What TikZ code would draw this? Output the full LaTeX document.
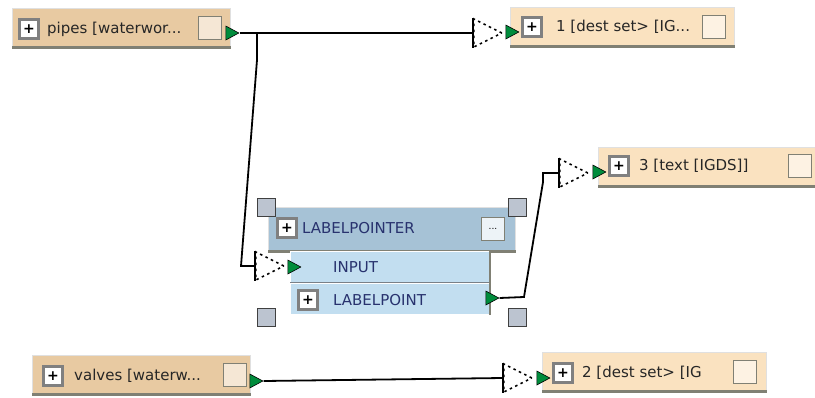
\documentclass[tikz,border=0pt]{standalone}
\usepackage{fontspec}
\setmainfont{DejaVu Sans}
\usetikzlibrary{shapes.geometric,positioning}
\definecolor{srcfill}{RGB}{232,202,162}
\definecolor{dstfill}{RGB}{250,226,192}
\definecolor{hdrfill}{RGB}{166,194,214}
\definecolor{rowfill}{RGB}{194,222,240}
\definecolor{hdlfill}{RGB}{188,196,208}
\definecolor{portgreen}{RGB}{0,140,60}
\definecolor{edgegray}{RGB}{128,128,116}
\definecolor{txtblue}{RGB}{40,50,110}
\tikzstyle{srcbox}=[rectangle,draw=black!12,line width=1pt,fill=srcfill,anchor=north west,minimum width=218pt,minimum height=38pt,inner sep=0pt]
\tikzstyle{dstbox}=[srcbox,fill=dstfill,minimum width=224pt]
\tikzstyle{hdr}=[srcbox,fill=hdrfill,minimum width=247pt,minimum height=43pt]
\tikzstyle{row}=[srcbox,fill=rowfill,draw=white,minimum width=199pt,minimum height=31pt]
\tikzstyle{pm}=[rectangle,draw=gray,line width=2.2pt,fill=white,minimum size=19pt,inner sep=0pt,font=\bfseries\fontsize{14}{14}\selectfont]
\tikzstyle{btn}=[rectangle,draw=edgegray,line width=1.5pt,fill=white!55!srcfill,minimum size=23pt,inner sep=0pt]
\tikzstyle{lbl}=[anchor=west,inner sep=0pt,font=\fontsize{15}{17}\selectfont,text=black!85]
\tikzstyle{outp}=[isosceles triangle,isosceles triangle stretches,fill=portgreen,draw=black,line width=0.6pt,minimum width=14pt,minimum height=13pt,inner sep=0pt]
\tikzstyle{inp}=[isosceles triangle,isosceles triangle stretches,draw,dash pattern=on 2.5pt off 3.5pt,line width=1.6pt,minimum width=28pt,minimum height=28pt,inner sep=0pt,anchor=lower side]
\tikzstyle{hdl}=[rectangle,fill=hdlfill,draw=black!75,line width=1pt,minimum size=18pt,inner sep=0pt]
\tikzstyle{wire}=[line width=1.8pt]
\tikzstyle{shd}=[line width=3pt,edgegray]

\begin{document}
\begin{tikzpicture}[x=1pt,y=-1pt]
\useasboundingbox (0,0) rectangle (815,397);
% source feature types
\node[srcbox] (pipes) at (12,8) {};
\draw[shd] (pipes.south west) -- (pipes.south east);
\node[pm] (pipesPM) at (29,29) {+};
\node[lbl] (pipesT) at (47,29) {pipes [waterwor...};
\node[btn] (pipesB) at (210,28) {};
\node[srcbox] (valves) at (32,355) {};
\draw[shd] (valves.south west) -- (valves.south east);
\node[pm] (valvesPM) at (53,376) {+};
\node[lbl] (valvesT) at (74,376) {valves [waterw...};
\node[btn] (valvesB) at (235,375) {};
% destination feature types
\node[dstbox] (dest1) at (510,7) {};
\draw[shd] (dest1.south west) -- (dest1.south east);
\node[pm] (dest1PM) at (532,27) {+};
\node[lbl] (dest1T) at (556,27) {1 [dest set> [IG...};
\node[btn,fill=white!55!dstfill] (dest1B) at (714,27) {};
\node[dstbox] (dest3) at (598,147) {};
\draw[shd] (dest3.south west) -- (dest3.south east);
\node[pm] (dest3PM) at (619,166) {+};
\node[lbl] (dest3T) at (639,166) {3 [text [IGDS]]};
\node[btn,fill=white!55!dstfill] (dest3B) at (800,166) {};
\node[dstbox] (dest2) at (542,352) {};
\draw[shd] (dest2.south west) -- (dest2.south east);
\node[pm] (dest2PM) at (563,373) {+};
\node[lbl] (dest2T) at (582,373) {2 [dest set> [IG};
\node[btn,fill=white!55!dstfill] (dest2B) at (745,372) {};
% transformer
\node[hdr] (lp) at (268,207) {};
\draw[shd] (lp.south west) -- (lp.south east);
\node[pm] (lpPM) at (287,228) {+};
\node[lbl,text=txtblue] (lpT) at (302,228) {LABELPOINTER};
\node[btn,fill=white!80!hdrfill,font=\small] (lpB) at (493,229) {...};
\node[row] (inRow) at (290,251) {};
\draw[line width=2pt,black!35!hdlfill] (inRow.south west) -- (inRow.south east);
\node[lbl,text=txtblue] (inT) at (333,267) {INPUT};
\node[row] (outRow) at (290,283) {};
\draw[line width=2pt,edgegray] (inRow.north east) -- (outRow.south east);
\node[pm] (outPM) at (308,300) {+};
\node[lbl,text=txtblue] (outT) at (333,300) {LABELPOINT};
\node[hdl] (h1) at (266,207) {};
\node[hdl] (h2) at (517,207) {};
\node[hdl] (h3) at (266,317) {};
\node[hdl] (h4) at (517,317) {};
% ports
\node[outp] (pipesO) at (230,33) {};
\node[outp] (valvesO) at (254,381) {};
\node[outp] (lpO) at (490,298) {};
\node[outp] (dest1I) at (510,32) {};
\node[outp] (dest3I) at (597,172) {};
\node[outp] (dest2I) at (541,378) {};
\node[outp] (inI) at (292,267) {};
\node[inp] (in1) at (473,33) {};
\node[inp] (in3) at (559,173) {};
\node[inp] (in2) at (503,378) {};
\node[inp] (in4) at (255,266) {};
\foreach \t in {in1,in2,in3,in4}
  \draw[wire] (\t.left corner) -- (\t.right corner);
% connections
\coordinate (split) at (257,33);
\draw[wire] (pipesO.apex) -- (in1.lower side);
\draw[wire] (split) -- (257,60) -- (241,266) -- (in4.lower side);
\draw[wire] (lpO.apex) -- (524,297) -- (543,182) -- (543,173) -- (in3.lower side);
\draw[wire] (valvesO.apex) -- (in2.lower side);
\end{tikzpicture}
\end{document}
